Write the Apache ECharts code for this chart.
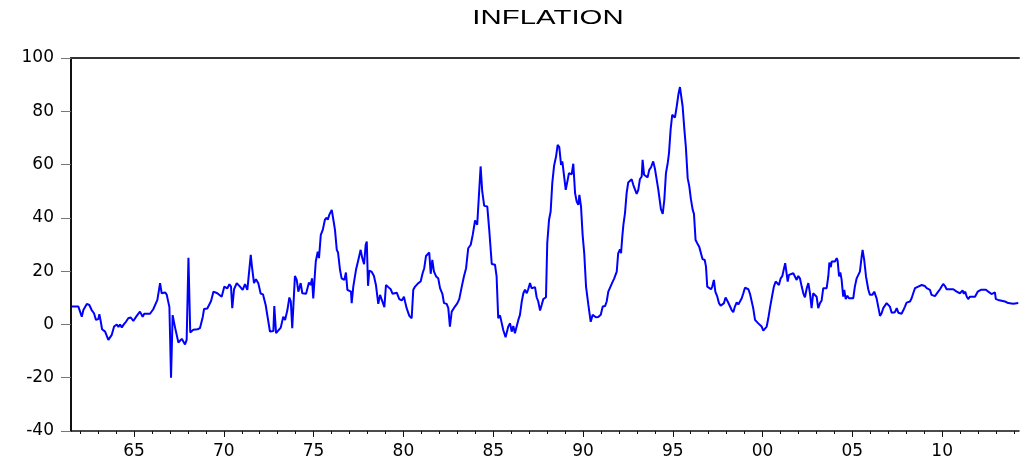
<!DOCTYPE html>
<html>
<head>
<meta charset="utf-8">
<script src="https://cdn.jsdelivr.net/npm/echarts@6/dist/echarts.min.js"></script>
<style>
html,body{margin:0;padding:0;background:#fff;}
#chart{width:1020px;height:460px;}
</style>
</head>
<body>
<div id="chart"></div>
<script>
// Time (decimal years) and inflation values
var years = [
1961.53,1961.90,1962.09,1962.18,1962.37,1962.51,1962.64,1962.77,1962.88,1963.01,1963.07,1963.15,1963.22,1963.39,1963.57,1963.76,1963.89,1964.04,1964.13,1964.22,1964.32,1964.44,1964.55,1964.68,1964.82,1964.96,
1965.15,1965.33,1965.48,1965.57,1965.89,1966.07,1966.17,1966.30,1966.45,1966.54,1966.73,1966.82,1966.97,1967.06,1967.15,1967.28,1967.47,1967.66,1967.84,1967.93,1968.03,1968.13,1968.30,1968.40,1968.54,1968.67,1968.83,1968.90,
1969.08,1969.29,1969.42,1969.64,1969.88,1970.03,1970.19,1970.31,1970.40,1970.47,1970.57,1970.72,1970.90,1971.05,1971.18,1971.31,1971.50,1971.57,1971.68,1971.79,1971.92,1972.05,1972.18,1972.33,1972.42,1972.57,1972.67,1972.76,1972.81,1972.91,
1973.00,1973.17,1973.31,1973.41,1973.54,1973.65,1973.73,1973.81,1973.96,1974.06,1974.15,1974.28,1974.37,1974.58,1974.74,1974.84,1974.91,1974.98,1975.12,1975.23,1975.30,1975.40,1975.51,1975.63,1975.73,1975.79,1975.87,1975.95,
1976.01,1976.10,1976.19,1976.29,1976.36,1976.47,1976.56,1976.71,1976.80,1976.88,1976.99,1977.08,1977.12,1977.21,1977.36,1977.49,1977.62,1977.71,1977.81,1977.90,1977.96,1978.03,1978.10,1978.24,1978.36,1978.47,1978.60,1978.70,1978.79,1978.94,
1979.03,1979.16,1979.29,1979.40,1979.50,1979.63,1979.77,1979.91,1980.03,1980.09,1980.18,1980.33,1980.46,1980.55,1980.65,1980.74,1980.83,1980.96,1981.07,1981.16,1981.26,1981.35,1981.44,1981.52,1981.61,1981.70,1981.82,1981.94,
1982.04,1982.17,1982.26,1982.41,1982.50,1982.59,1982.69,1982.87,1983.00,1983.11,1983.25,1983.37,1983.49,1983.61,1983.75,1983.86,1983.99,1984.11,1984.21,1984.30,1984.39,1984.50,1984.67,1984.78,1984.92,
1985.10,1985.19,1985.28,1985.38,1985.46,1985.56,1985.69,1985.84,1985.94,1986.03,1986.12,1986.21,1986.31,1986.40,1986.49,1986.59,1986.68,1986.77,1986.87,1986.95,1987.05,1987.14,1987.23,1987.33,1987.42,1987.51,1987.61,1987.70,1987.79,1987.94,
1988.01,1988.11,1988.20,1988.29,1988.39,1988.50,1988.59,1988.68,1988.78,1988.85,1988.94,1989.04,1989.13,1989.22,1989.32,1989.37,1989.46,1989.56,1989.65,1989.74,1989.80,1989.89,1989.98,
1990.07,1990.17,1990.30,1990.43,1990.54,1990.63,1990.72,1990.85,1990.99,1991.10,1991.23,1991.32,1991.41,1991.50,1991.63,1991.74,1991.88,1991.96,1992.06,1992.12,1992.19,1992.25,1992.34,1992.43,1992.52,1992.62,1992.71,1992.80,1992.89,1992.99,
1993.08,1993.17,1993.27,1993.32,1993.40,1993.51,1993.60,1993.69,1993.79,1993.91,1994.01,1994.10,1994.19,1994.29,1994.34,1994.44,1994.53,1994.62,1994.72,1994.79,1994.88,1994.97,
1995.07,1995.12,1995.22,1995.31,1995.40,1995.47,1995.55,1995.64,1995.73,1995.83,1995.92,1996.01,1996.11,1996.18,1996.27,1996.36,1996.47,1996.57,1996.66,1996.78,1996.85,1996.92,
1997.03,1997.13,1997.20,1997.29,1997.37,1997.48,1997.57,1997.67,1997.78,1997.85,1997.94,1998.06,1998.15,1998.28,1998.37,1998.46,1998.56,1998.65,1998.74,1998.84,1998.93,
1999.02,1999.12,1999.21,1999.30,1999.39,1999.48,1999.58,1999.67,1999.76,1999.85,1999.95,2000.04,2000.13,2000.23,2000.32,2000.41,2000.50,2000.56,2000.63,2000.73,2000.82,2000.91,
2001.01,2001.10,2001.19,2001.26,2001.34,2001.40,2001.47,2001.58,2001.71,2001.80,2001.90,2001.99,2002.08,2002.18,2002.27,2002.36,2002.46,2002.55,2002.64,2002.73,2002.82,2002.92,
2003.01,2003.10,2003.20,2003.29,2003.38,2003.57,2003.66,2003.72,2003.80,2003.85,2003.94,2004.03,2004.13,2004.18,2004.26,2004.33,2004.40,2004.49,2004.55,2004.63,2004.72,2004.81,
2005.05,2005.14,2005.24,2005.33,2005.42,2005.52,2005.57,2005.66,2005.76,2005.89,2005.98,2006.11,2006.22,2006.35,2006.44,2006.54,2006.63,2006.72,2006.82,2006.91,
2007.00,2007.09,2007.19,2007.37,2007.47,2007.56,2007.65,2007.74,2007.83,2007.93,2008.02,2008.11,2008.21,2008.30,2008.39,2008.49,2008.58,2008.67,2008.76,2008.86,2008.95,
2009.04,2009.14,2009.23,2009.32,2009.41,2009.50,2009.60,2009.69,2009.78,2009.88,2009.97,2010.06,2010.16,2010.25,2010.34,2010.43,2010.53,2010.62,2010.71,2010.81,2010.90,2010.99,
2011.08,2011.14,2011.21,2011.29,2011.36,2011.45,2011.55,2011.83,2011.92,2011.98,2012.07,2012.16,2012.44,2012.57,2012.66,2012.75,2012.85,2012.94,2012.99,2013.12,2013.31,2013.50,2013.68,2013.96,2014.24
];
var inflation = [
6.7,6.7,2.9,5.4,7.7,7.3,5.4,4.2,1.7,2.0,3.8,1.0,-1.8,-2.7,-5.8,-3.9,-0.8,0.0,-1.0,0.0,-1.1,0.1,1.0,2.3,2.6,1.3,
3.2,4.8,2.9,4.0,4.0,5.7,5.4,9.2,15.5,11.7,12.0,11.2,6.5,-20.0,3.5,-1.0,-6.8,-5.4,-7.5,-5.8,25.0,-3.0,-2.0,-1.4,-1.8,-1.4,2.9,5.8,
6.0,8.8,12.3,11.7,10.4,14.2,13.5,15.1,14.2,6.1,13.2,15.5,14.2,13.0,15.1,13.0,26.1,21.5,15.5,17.0,15.5,11.6,11.3,7.3,7.0,-2.7,-2.2,-2.5,6.9,-3.3,
-3.7,-1.2,2.9,1.7,5.4,10.1,8.6,-1.4,18.2,16.7,12.3,15.5,11.7,11.5,15.7,14.8,17.3,9.8,23.6,27.3,24.9,33.6,35.5,39.3,40.1,39.3,41.1,41.4,
43.0,39.3,35.5,28.0,27.0,20.5,17.3,16.7,19.5,13.0,13.2,12.3,8.0,14.2,20.5,24.2,28.0,24.9,22.6,29.9,31.1,14.5,20.2,19.7,18.2,14.8,7.7,11.1,11.5,6.5,
14.8,14.0,13.2,11.5,11.5,11.9,9.5,9.0,10.4,8.6,6.1,3.2,2.3,13.0,14.2,13.5,15.5,16.1,19.2,21.1,25.7,26.1,27.0,19.0,24.2,19.9,18.0,17.3,
13.6,11.5,8.0,7.7,6.1,-0.8,4.8,6.7,7.9,9.5,14.2,18.0,21.1,28.6,29.9,33.6,39.0,37.4,37.4,59.3,49.9,44.5,44.3,35.5,22.7,
22.4,18.0,2.3,3.4,3.4,-2.1,-4.8,-0.8,0.4,-2.7,-0.6,-3.3,-3.3,1.7,3.6,8.6,11.7,13.0,11.7,13.2,15.5,13.6,14.2,14.0,10.2,8.6,5.2,7.3,9.5,10.2,
30.5,39.3,42.4,53.0,59.5,63.0,67.4,66.6,59.9,61.2,61.2,50.5,49.9,56.8,57.5,56.3,60.3,49.3,46.1,44.9,48.6,44.3,33.6,
26.7,14.2,7.3,1.0,3.6,4.0,2.7,2.8,3.6,6.7,6.9,8.6,12.3,13.0,15.7,17.3,19.8,26.7,28.2,26.7,33.0,37.4,41.8,49.3,53.3,53.6,54.5,52.4,52.4,49.0,
50.5,54.5,55.5,61.8,56.2,55.5,55.2,58.0,59.0,61.2,58.3,58.0,50.8,50.8,43.3,41.5,46.8,56.8,60.6,64.3,73.1,78.7,
79.0,77.6,81.8,86.2,89.1,89.3,81.8,73.7,66.5,54.9,51.8,47.0,43.0,41.5,31.7,30.5,29.2,28.8,24.5,24.2,21.7,14.2,
13.8,13.2,14.2,16.7,12.3,10.4,8.0,7.0,6.3,8.0,10.1,8.6,8.0,5.4,4.6,6.7,8.3,7.5,7.5,9.8,11.7,
13.8,14.2,13.2,11.5,10.8,6.1,1.7,1.9,0.4,0.4,-0.8,-2.3,-2.3,-0.8,2.3,6.1,6.7,11.7,14.2,16.1,16.7,14.8,
17.3,18.2,18.6,23.0,22.9,16.1,18.6,18.6,19.2,18.6,16.7,18.2,17.3,14.2,11.7,10.2,13.6,15.5,11.7,6.1,11.7,12.3,
10.4,6.1,8.0,9.0,13.6,13.6,18.0,23.2,21.5,23.6,22.9,23.6,24.9,24.0,18.0,19.5,16.9,10.4,13.0,9.5,10.8,9.8,
9.8,14.2,17.3,17.3,19.8,25.5,28.0,24.2,18.0,13.0,11.1,11.1,12.3,9.8,6.7,3.2,4.2,6.1,6.7,8.0,
8.3,6.7,4.4,4.6,6.1,4.4,3.9,4.0,5.2,6.7,8.2,8.0,8.6,9.8,11.7,13.6,13.0,14.2,14.8,14.8,14.2,
14.4,13.6,13.8,13.0,11.1,10.9,10.6,11.1,12.3,13.2,14.2,15.2,14.4,13.2,13.6,13.2,13.6,13.2,13.0,12.3,12.0,11.7,
11.1,12.8,11.5,12.3,10.6,9.5,10.4,10.4,10.6,12.3,12.0,13.0,13.0,12.3,11.7,11.4,12.0,12.0,9.5,9.2,8.9,8.6,8.0,7.8,8.0
];
var yTicks = [-40, -20, 0, 20, 40, 60, 80, 100];
var xLabelYears = [1965, 1970, 1975, 1980, 1985, 1990, 1995, 2000, 2005, 2010];
var xMinorYears = [];
for (var y = 1962; y <= 2014; y++) xMinorYears.push(y);
var titleText = 'INFLATION';

var seriesData = years.map(function (t, i) { return [t, inflation[i]]; });

var chart = echarts.init(document.getElementById('chart'), null, {renderer: 'canvas'});
var xMin = 1961.49, xMax = 2014.28;
var option = {
  animation: false,
  backgroundColor: '#ffffff',
  graphic: [{
    type: 'text',
    x: 548, y: 18,
    scaleX: 1.47,
    style: {
      text: titleText,
      fill: '#000',
      font: '20px "Liberation Sans", Arial, sans-serif',
      align: 'center',
      verticalAlign: 'middle'
    }
  }],
  grid: {left: 71, right: 1, top: 58, bottom: 29, containLabel: false},
  xAxis: [{
    type: 'value', min: xMin, max: xMax, position: 'bottom',
    axisLine: {show: true, onZero: false, lineStyle: {color: '#111', width: 1.5}},
    axisTick: {show: true, inside: false, length: 6, customValues: xLabelYears, lineStyle: {color: '#111', width: 1}},
    axisLabel: {
      show: true, customValues: xLabelYears, margin: 12,
      fontFamily: 'DejaVu Sans', fontSize: 17, color: '#000',
      formatter: function (v) { var s = String(Math.round(v) % 100); return s.length < 2 ? '0' + s : s; }
    },
    splitLine: {show: false}
  }, {
    type: 'value', min: xMin, max: xMax, position: 'bottom',
    axisLine: {show: false, onZero: false},
    axisTick: {show: true, inside: false, length: 3, customValues: xMinorYears, lineStyle: {color: '#111', width: 1}},
    axisLabel: {show: false},
    splitLine: {show: false}
  }, {
    type: 'value', min: xMin, max: xMax, position: 'top',
    axisLine: {show: true, onZero: false, lineStyle: {color: '#333', width: 2}},
    axisTick: {show: false}, axisLabel: {show: false}, splitLine: {show: false}
  }],
  yAxis: {
    type: 'value', min: -40, max: 100, interval: 20,
    axisLine: {show: true, onZero: false, lineStyle: {color: '#111', width: 2}},
    axisTick: {show: true, inside: false, length: 10, lineStyle: {color: '#777', width: 1}},
    axisLabel: {margin: 17, fontFamily: 'DejaVu Sans', fontSize: 17, color: '#000'},
    splitLine: {show: false}
  },
  series: [{
    type: 'line',
    xAxisIndex: 0,
    data: seriesData,
    showSymbol: false,
    symbol: 'none',
    lineStyle: {color: '#0000ff', width: 2},
    itemStyle: {color: '#0000ff'}
  }]
};
chart.setOption(option);
</script>
</body>
</html>
